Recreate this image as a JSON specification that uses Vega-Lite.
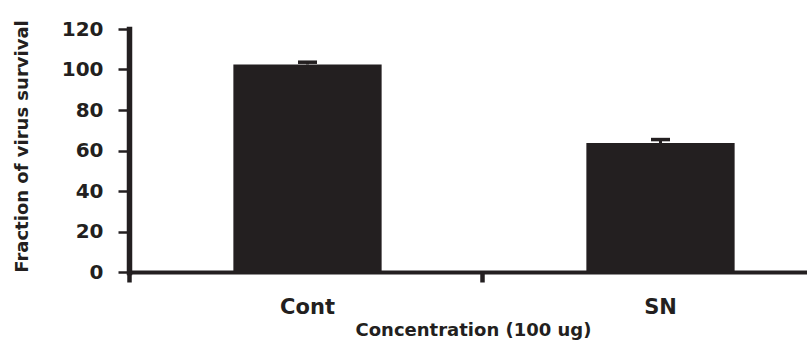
{
  "$schema": "https://vega.github.io/schema/vega-lite/v6.json",
  "autosize": {"type": "none"},
  "padding": {"left": 129, "top": 29, "right": 0, "bottom": 77},
  "width": 678,
  "height": 243,
  "background": "white",
  "data": {"values": [
    {"group": "Cont", "value": 102.5, "upper": 103.6},
    {"group": "SN", "value": 63.7, "upper": 65.4}
  ]},
  "config": {
    "view": {"stroke": null},
    "axis": {
      "labelFont": "DejaVu Sans", "titleFont": "DejaVu Sans",
      "labelFontWeight": "bold", "titleFontWeight": "bold",
      "labelColor": "#231f20", "titleColor": "#231f20",
      "domainColor": "#231f20", "tickColor": "#231f20", "grid": false
    }
  },
  "layer": [
    {
      "mark": {"type": "bar", "color": "#231f20"},
      "encoding": {
        "x": {
          "field": "group", "type": "nominal",
          "scale": {"domain": ["Cont", "SN"], "range": [2, 708], "paddingInner": 0.58, "paddingOuter": 0.29},
          "axis": {
            "orient": "bottom", "title": "Concentration (100 ug)", "ticks": false,
            "domain": true, "domainWidth": 4, "domainCap": "square",
            "labelAngle": 0, "labelFontSize": 21, "labelPadding": 24,
            "titleFontSize": 18, "titleX": 344, "titleY": 63,
            "titleBaseline": "alphabetic", "titleAlign": "center"
          }
        },
        "y": {
          "field": "value", "type": "quantitative",
          "scale": {"domain": [0, 120], "nice": false},
          "axis": {
            "orient": "left",
            "title": "Fraction of virus survival",
            "values": [0, 20, 40, 60, 80, 100, 120],
            "domainWidth": 5.5, "domainCap": "square",
            "tickWidth": 2.5, "tickSize": 11, "labelPadding": 15, "labelFontSize": 20,
            "titleFontSize": 18, "titleX": -107, "titleY": 117, "titleAngle": -90,
            "titleAlign": "center", "titleBaseline": "middle"
          }
        }
      }
    },
    {
      "mark": {"type": "rule", "color": "#231f20", "strokeWidth": 3},
      "encoding": {
        "x": {
          "field": "group", "type": "nominal",
          "axis": {
            "orient": "bottom", "labels": false, "title": null, "domain": false,
            "ticks": true, "tickSize": 10, "tickWidth": 4.5, "bandPosition": 0, "tickOffset": -104.4
          }
        },
        "y": {"field": "value", "type": "quantitative", "axis": null},
        "y2": {"field": "upper"}
      }
    },
    {
      "mark": {"type": "tick", "color": "#231f20", "size": 19, "thickness": 3.5, "opacity": 1},
      "encoding": {
        "x": {"field": "group", "type": "nominal", "axis": null},
        "y": {"field": "upper", "type": "quantitative", "axis": null}
      }
    }
  ],
  "resolve": {"axis": {"x": "independent", "y": "independent"}}
}
